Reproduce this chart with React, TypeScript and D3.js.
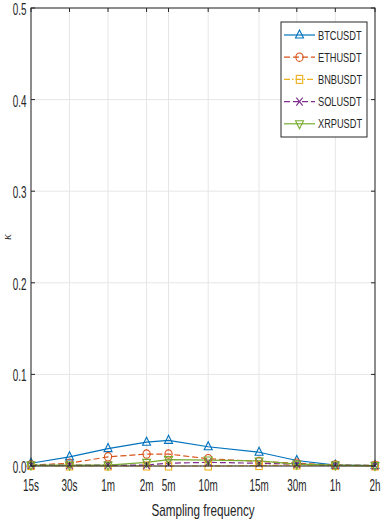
import React from "react";
import * as d3 from "d3";

const categories = ["15s", "30s", "1m", "2m", "5m", "10m", "15m", "30m", "1h", "2h"];
const categoryPos = [0, 1, 2, 3, 3.57, 4.6, 5.92, 6.9, 7.9, 8.93];
const yTicks = [0, 0.1, 0.2, 0.3, 0.4, 0.5];

const btc = [0.003, 0.010, 0.019, 0.026, 0.028, 0.021, 0.015, 0.006, 0.001, 0.0005];
const eth = [0.001, 0.003, 0.010, 0.013, 0.013, 0.008, 0.005, 0.003, 0.001, 0.0005];
const bnb = [0.0005, 0.0, 0.0, 0.0, 0.0, 0.0, 0.0005, 0.001, 0.0005, 0.0];
const sol = [0.001, 0.001, 0.001, 0.001, 0.003, 0.004, 0.003, 0.002, 0.001, 0.0005];
const xrp = [0.001, 0.001, 0.001, 0.004, 0.007, 0.0065, 0.0055, 0.002, 0.001, 0.0005];

const seriesNames = ["BTCUSDT", "ETHUSDT", "BNBUSDT", "SOLUSDT", "XRPUSDT"];
const seriesValues = [btc, eth, bnb, sol, xrp];
const colors = ["#0072BD", "#D95319", "#EDB120", "#7E2F8E", "#77AC30"];
const dashes = ["", "6,3", "6,2,1.5,2", "6,3", ""];
const markers = ["up", "circle", "square", "x", "down"];

const W = 381, H = 523;
const L = 31, R = 375, T = 8, B = 466;

function Marker({ type, x, y, color }: { type: string; x: number; y: number; color: string }) {
  const s = 4;
  const common = { fill: "none", stroke: color, strokeWidth: 1.1 };
  if (type === "up")
    return <path d={`M${x},${y - s - 1}L${x + s},${y + s - 1}L${x - s},${y + s - 1}Z`} {...common} />;
  if (type === "down")
    return <path d={`M${x},${y + s + 1}L${x + s},${y - s + 1}L${x - s},${y - s + 1}Z`} {...common} />;
  if (type === "circle") return <ellipse cx={x} cy={y} rx={s * 0.9} ry={s * 1.05} {...common} />;
  if (type === "square") return <rect x={x - s * 0.8} y={y - s} width={s * 1.6} height={s * 2} {...common} />;
  return <path d={`M${x - s * 0.8},${y - s}L${x + s * 0.8},${y + s}M${x - s * 0.8},${y + s}L${x + s * 0.8},${y - s}`} {...common} />;
}

function T2({ x, y, anchor, size, sx, children }: any) {
  return (
    <text
      transform={`translate(${x},${y}) scale(${sx},1)`}
      textAnchor={anchor}
      fontSize={size}
      fontFamily="Liberation Sans, Arial, sans-serif"
      fill="#262626"
    >
      {children}
    </text>
  );
}

export default function App() {
  const x = d3.scaleLinear().domain([0, 8.93]).range([L, R]);
  const y = d3.scaleLinear().domain([0, 0.5]).range([B, T]);
  const line = d3
    .line<number>()
    .x((_, i) => x(categoryPos[i]))
    .y((d) => y(d));

  return (
    <svg width={W} height={H} style={{ position: "absolute", left: 0, top: 0, background: "#fff" }}>
      {categoryPos.map((p, i) => (
        <line key={"gx" + i} x1={x(p)} x2={x(p)} y1={T} y2={B} stroke="#e6e6e6" strokeWidth={1} />
      ))}
      {yTicks.map((t, i) => (
        <line key={"gy" + i} x1={L} x2={R} y1={y(t)} y2={y(t)} stroke="#e6e6e6" strokeWidth={1} />
      ))}
      {seriesValues.map((vals, si) => (
        <path
          key={"l" + si}
          d={line(vals) || ""}
          fill="none"
          stroke={colors[si]}
          strokeWidth={1.2}
          strokeDasharray={dashes[si]}
        />
      ))}
      {seriesValues.map((vals, si) =>
        vals.map((v, i) => (
          <Marker key={`m${si}-${i}`} type={markers[si]} x={x(categoryPos[i])} y={y(v)} color={colors[si]} />
        ))
      )}
      <rect x={L} y={T} width={R - L} height={B - T} fill="none" stroke="#262626" strokeWidth={1} />
      {categoryPos.map((p, i) => (
        <g key={"tx" + i}>
          <line x1={x(p)} x2={x(p)} y1={B} y2={B - 4} stroke="#262626" />
          <line x1={x(p)} x2={x(p)} y1={T} y2={T + 4} stroke="#262626" />
          <T2 x={x(p)} y={491} anchor="middle" size={16.5} sx={0.6}>
            {categories[i]}
          </T2>
        </g>
      ))}
      {yTicks.map((t, i) => (
        <g key={"ty" + i}>
          <line x1={L} x2={L + 4} y1={y(t)} y2={y(t)} stroke="#262626" />
          <line x1={R} x2={R - 4} y1={y(t)} y2={y(t)} stroke="#262626" />
          <T2 x={26.5} y={y(t) + 7} anchor="end" size={16.5} sx={0.6}>
            {t.toFixed(1)}
          </T2>
        </g>
      ))}
      <T2 x={203} y={516} anchor="middle" size={16} sx={0.73}>
        Sampling frequency
      </T2>
      <g transform="translate(11,237) rotate(-90)">
        <text textAnchor="middle" fontSize={12} fontStyle="italic" fontFamily="Liberation Serif, serif" fill="#262626">
          κ
        </text>
      </g>
      <rect x={281} y={22} width={86} height={115} fill="#fff" stroke="#262626" strokeWidth={1} />
      {seriesNames.map((n, si) => {
        const ly = 35 + si * 22.2;
        return (
          <g key={"lg" + si}>
            <line x1={284} x2={315} y1={ly} y2={ly} stroke={colors[si]} strokeWidth={1.2} strokeDasharray={dashes[si]} />
            <Marker type={markers[si]} x={299.5} y={ly} color={colors[si]} />
            <T2 x={318} y={ly + 4.5} anchor="start" size={12.3} sx={0.75}>
              {n}
            </T2>
          </g>
        );
      })}
    </svg>
  );
}
